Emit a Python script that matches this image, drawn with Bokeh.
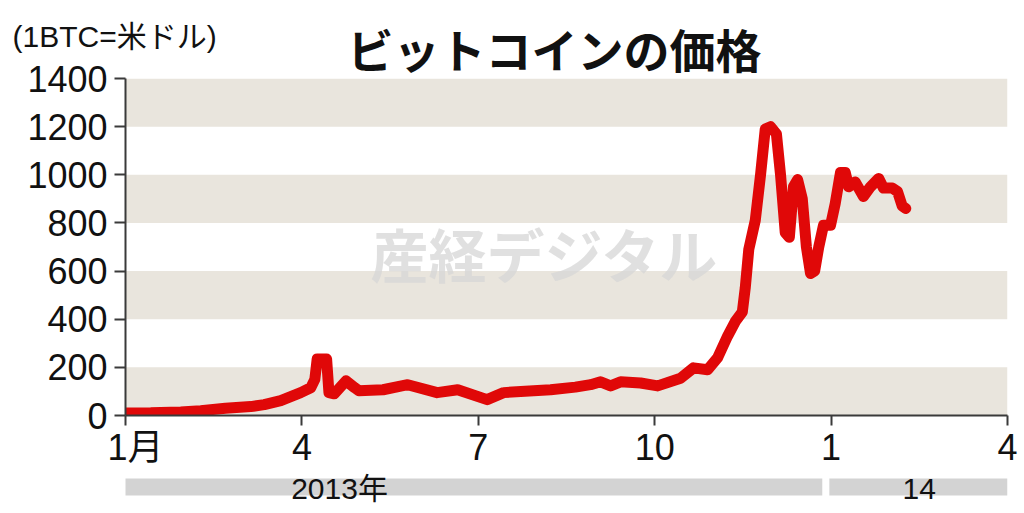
from bokeh.plotting import figure
from bokeh.layouts import column
from bokeh.models import Range1d, FixedTicker, Label, Title
from bokeh.core.properties import value
from bokeh.embed import file_html
from bokeh.resources import INLINE

# --- data (months since Jan 2013, price in USD) ---
months = [0.00, 0.43, 0.94, 1.28, 1.70, 2.13, 2.36, 2.64, 2.98, 3.15, 3.22, 3.26, 3.42, 3.46,
          3.55, 3.75, 3.90, 3.97, 4.38, 4.80, 5.30, 5.65, 6.15, 6.43, 6.94, 7.23, 7.65, 7.91,
          8.08, 8.25, 8.42, 8.76, 9.05, 9.44, 9.66, 9.90, 10.07, 10.24, 10.37, 10.49, 10.54,
          10.60, 10.71, 10.80, 10.88, 10.97, 11.07, 11.14, 11.22, 11.29, 11.36, 11.43, 11.51,
          11.58, 11.65, 11.72, 11.79, 11.87, 11.99, 12.07, 12.16, 12.24, 12.30, 12.41, 12.55,
          12.67, 12.81, 12.89, 13.04, 13.13, 13.21, 13.27]
prices = [10, 11, 15, 20, 30, 37, 45, 62, 95, 115, 150, 235, 235, 95,
          90, 144, 115, 103, 107, 128, 95, 107, 66, 95, 103, 107, 118, 128,
          140, 123, 140, 135, 123, 155, 198, 190, 240, 330, 390, 430, 530,
          690, 810, 1000, 1190, 1200, 1170, 1000, 760, 740, 950, 980, 900,
          700, 590, 600, 700, 790, 790, 880, 1010, 1010, 950, 970, 910,
          950, 985, 945, 945, 930, 870, 860]

y_ticks = [0, 200, 400, 600, 800, 1000, 1200, 1400]
band_bottoms = [0, 400, 800, 1200]
band_tops = [200, 600, 1000, 1400]
x_ticks = [0, 3, 6, 9, 12, 15]
x_tick_labels = ["\u00a0\u00a01月", "4", "7", "10", "1", "4"]
years = ["2013年", "14"]
year_starts = [-0.085, 11.97]
year_ends = [11.85, 15.0]
year_label_x = [3.64, 13.5]

title_text = "ビットコインの価格"
unit_text = "(1BTC=米ドル)"
watermark_text = "産経デジタル"

LAT = "Liberation Sans, Noto Sans CJK JP"
JP = "Noto Sans CJK JP"

W = 1024
MAIN_H = 470
BOT_H = 513 - MAIN_H
X0, X1 = 0, 15
PX_PER_MONTH = (1007 - 125) / (X1 - X0)

# ---------------- main chart ----------------
p = figure(width=W, height=MAIN_H, output_backend="svg", toolbar_location=None,
           x_range=Range1d(X0, X1), y_range=Range1d(0, 1400), title=None,
           min_border_left=125, min_border_right=17, min_border_top=78, min_border_bottom=52)
p.background_fill_color = "white"
p.border_fill_color = "white"
p.outline_line_color = None
p.xgrid.visible = False
p.ygrid.visible = False

p.add_layout(Title(text=title_text, align="left", offset=222, standoff=-5,
                   text_font=JP, text_font_style="bold", text_font_size="46px",
                   text_color="#111111"), "above")
p.add_layout(Title(text=unit_text, align="left", offset=-113, standoff=-75,
                   text_font=LAT, text_font_style="normal", text_font_size="30px",
                   text_color="#111111"), "above")

# shaded bands
p.quad(left=X0, right=X1, bottom=band_bottoms, top=band_tops,
       fill_color="#e9e5dd", line_color=None)

# watermark
p.add_layout(Label(x=(370 - 125) / PX_PER_MONTH, y=(418 - 254) / (340 / 1400),
                   text=watermark_text, text_font=JP, text_font_style="bold",
                   text_font_size="58px", text_color="#d6d6d6", text_alpha=0.75,
                   text_baseline="middle", text_align="left"))

# price line
p.line(months, prices, line_width=11, line_color="#e00808",
       line_join="round", line_cap="round")

# axes
for ax in (p.xaxis[0], p.yaxis[0]):
    ax.axis_line_color = "#3a3a3a"
    ax.axis_line_width = 2
    ax.major_tick_line_color = "#3a3a3a"
    ax.major_tick_line_width = 2
    ax.minor_tick_line_color = None
    ax.major_tick_in = 0

p.yaxis.major_tick_out = 11
p.yaxis.ticker = FixedTicker(ticks=y_ticks)
p.yaxis.major_label_text_font = "Liberation Sans"
p.yaxis.major_label_text_font_size = "36px"
p.yaxis.major_label_text_color = "#111111"
p.yaxis.major_label_standoff = 7

p.xaxis.major_tick_out = 10
p.xaxis.ticker = FixedTicker(ticks=x_ticks)
p.xaxis.major_label_overrides = {t: lab for t, lab in zip(x_ticks, x_tick_labels)}
p.xaxis.major_label_text_font = LAT
p.xaxis.major_label_text_font_size = "36px"
p.xaxis.major_label_text_color = "#111111"
p.xaxis.major_label_standoff = 1

# ---------------- year strip below ----------------
b = figure(width=W, height=BOT_H, output_backend="svg", toolbar_location=None,
           x_range=p.x_range, y_range=Range1d(0, BOT_H), x_axis_type=None, y_axis_type=None,
           min_border_left=125, min_border_right=17, min_border_top=0, min_border_bottom=0)
b.background_fill_color = "white"
b.border_fill_color = "white"
b.outline_line_color = None
b.xgrid.visible = False
b.ygrid.visible = False

b.quad(left=year_starts, right=year_ends, bottom=BOT_H - 25, top=BOT_H - 8,
       fill_color="#d3d3d3", line_color=None)
b.text(x=year_label_x, y=[BOT_H - 18] * len(years), text=years,
       text_font=value(LAT), text_font_size="30px", text_color="#111111",
       text_align="center", text_baseline="middle")

layout = column(p, b, spacing=0)
open("out.html", "w").write(file_html(layout, INLINE))
